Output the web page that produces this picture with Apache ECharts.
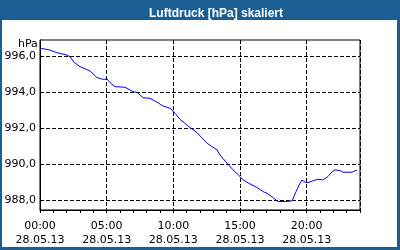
<!DOCTYPE html>
<html><head><meta charset="utf-8">
<script src="https://cdn.jsdelivr.net/npm/echarts@6/dist/echarts.min.js"></script>
<style>html,body{margin:0;padding:0;background:#fff}#c{width:400px;height:250px}</style>
</head><body><div id="c"></div>
<script>
const titleText = "Luftdruck [hPa] skaliert";
const unitLabel = "hPa";
const dateLabel = "28.05.13";
const hours = [0.05,0.75,0.9,1.28,2.03,2.25,2.55,3.0,3.75,4.28,4.73,5.03,5.25,5.63,6.38,6.98,7.28,7.73,8.25,8.78,9.23,9.75,10.13,10.5,11.25,11.78,12.08,12.53,13.28,13.5,14.03,14.48,15.0,15.23,15.75,16.28,16.73,17.03,17.48,17.85,18.38,18.9,19.2,19.5,19.65,19.88,20.1,20.48,20.85,21.23,21.6,21.9,22.13,22.5,22.73,23.4,23.78];
const pressure = [996.43,996.33,996.39,996.18,996.05,995.96,995.65,995.41,995.17,994.8,994.7,994.72,994.52,994.3,994.26,994.02,993.98,993.68,993.65,993.43,993.22,993.1,992.82,992.48,992.02,991.74,991.5,991.15,990.78,990.5,990.04,989.67,989.3,989.11,988.89,988.69,988.46,988.37,988.13,987.91,987.91,987.94,988.46,988.93,989.11,988.98,988.96,989.07,989.15,989.11,989.3,989.57,989.67,989.63,989.54,989.54,989.67];
const yTicks = [988,990,992,994,996];
const xTickHours = [0,5,10,15,20];

const font = "DejaVu Sans";
const chart = echarts.init(document.getElementById('c'), null, {renderer:'canvas'});
chart.setOption({
  animation:false,
  backgroundColor:'#fff',
  title:{text:titleText,left:211,top:3,textAlign:'center',textStyle:{color:'#fff',fontSize:12,fontWeight:'bold',fontFamily:'Liberation Sans'}},
  graphic:[
    {type:'rect',shape:{x:0,y:0,width:400,height:20},style:{fill:'#1b5e94'},z:-1},
    {type:'rect',shape:{x:0,y:0,width:2,height:250},style:{fill:'#1b5e94'}},
    {type:'rect',shape:{x:397,y:0,width:3,height:250},style:{fill:'#1b5e94'}},
    {type:'rect',shape:{x:0,y:247,width:400,height:3},style:{fill:'#1b5e94'}},
    {type:'text',left:18,top:39,style:{text:unitLabel,fill:'#000',font:'11px '+font}}
  ],
  grid:{left:40,top:40,width:320,height:170,show:true,borderColor:'#000',borderWidth:1,backgroundColor:'transparent'},
  xAxis:{type:'value',min:0,max:24,interval:5,
    axisLine:{lineStyle:{color:'#000',width:1}},
    axisTick:{show:true,length:3,lineStyle:{color:'#000'}},
    minorTick:{show:true,splitNumber:5,length:3,lineStyle:{color:'#000'}},
    splitLine:{show:true,lineStyle:{color:'#000',type:[4,2],width:1}},
    axisLabel:{color:'#000',fontFamily:font,fontSize:11,lineHeight:14,margin:9,
      customValues:xTickHours,
      formatter:v=>String(v).padStart(2,'0')+':00\n'+dateLabel}},
  yAxis:{type:'value',min:987.44,max:996.89,
    axisLine:{show:true,lineStyle:{color:'#000',width:1}},
    axisTick:{show:false,customValues:yTicks},
    splitLine:{show:true,lineStyle:{color:'#000',type:[4,2],width:1}},
    axisLabel:{color:'#000',fontFamily:font,fontSize:11,margin:4,customValues:yTicks,
      formatter:v=>v.toFixed(1).replace('.',',')}},
  series:[{type:'line',data:hours.map((h,i)=>[h,pressure[i]]),showSymbol:false,
    lineStyle:{color:'#0000ff',width:1},clip:true}]
});
</script></body></html>
